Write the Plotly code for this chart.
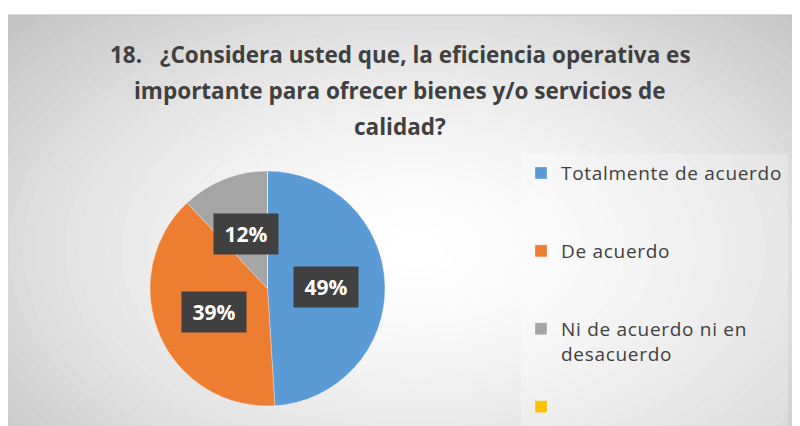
import math
import plotly.graph_objects as go

# ---- data ----
categories = ["Totalmente de acuerdo", "De acuerdo", "Ni de acuerdo ni en desacuerdo", ""]
legend_labels = ["Totalmente de acuerdo", "De acuerdo", "Ni de acuerdo ni en<br>desacuerdo", " "]
values = [49, 39, 12, 0]
colors = ["#5B9BD5", "#ED7D31", "#A5A5A5", "#FFC000"]
title_lines = [
    "18.\u00a0\u00a0\u00a0¿Considera usted que, la eficiencia operativa es",
    "importante para ofrecer bienes y/o servicios de",
    "calidad?",
]

# page body has an 8px margin: figure pixel = reference pixel - 8
OFF = 8
W, H = 792, 418
FONT = "Open Sans"
TXT = "#404040"


def fx(x):
    return (x - OFF) / W


def fy(y):
    return 1 - (y - OFF) / H


# pie geometry (reference pixels)
pcx, pcy, R = 267.5, 288.5, 117.5
dom_x = [fx(pcx - R), fx(pcx + R)]
dom_y = [fy(pcy + R), fy(pcy - R)]

# legend labels padded so each entry takes 3 lines (symbol aligned at top)
leg = []
for k, lab in enumerate(legend_labels):
    lines = lab.split("<br>")
    txt = "<br>".join(f"<span style='font-size:19px;letter-spacing:0.7px'>{s}</span>" for s in lines)
    if k < len(legend_labels) - 1:
        txt += "<br> " * (3 - len(lines))
    leg.append(txt)

fig = go.Figure()
fig.add_trace(go.Pie(
    labels=leg,
    values=values,
    marker=dict(colors=colors, line=dict(color="rgba(255,255,255,0.6)", width=0.5)),
    sort=False,
    direction="clockwise",
    rotation=0,
    textinfo="none",
    hoverinfo="percent",
    domain=dict(x=dom_x, y=dom_y),
    showlegend=True,
))

# ---- background: radial gradient panel ----
shapes = []
px0, py0 = 8, 15
shapes.append(dict(type="rect", xref="paper", yref="paper", x0=fx(px0), x1=1, y0=0, y1=fy(py0),
                   fillcolor="rgb(196,196,196)", line=dict(width=0), layer="below"))
gcx, gcy, grx, gry = 415, 250, 560, 340
N = 40
for i in range(N):
    s = 1 - i / N
    c = int(round(255 - 60 * s ** 1.6))
    shapes.append(dict(type="circle", xref="paper", yref="paper",
                       x0=fx(gcx - grx * s), x1=fx(gcx + grx * s),
                       y0=fy(gcy + gry * s), y1=fy(gcy - gry * s),
                       fillcolor=f"rgb({c},{c},{c})", line=dict(width=0), layer="below"))
# white outer margin at the top
shapes.append(dict(type="rect", xref="paper", yref="paper", x0=-0.05, x1=1.05, y0=fy(py0), y1=1.05,
                   fillcolor="white", line=dict(width=0), layer="below"))
shapes.append(dict(type="line", xref="paper", yref="paper", x0=fx(px0), x1=1, y0=fy(py0), y1=fy(py0),
                   line=dict(color="#bdbdbd", width=1), layer="below"))

annotations = []
# title lines
title_y = [55, 91, 126]
for line, ty in zip(title_lines, title_y):
    annotations.append(dict(text=f"<b>{line}</b>", x=fx(400), y=fy(ty), xref="paper", yref="paper",
                            showarrow=False, xanchor="center", yanchor="middle",
                            font=dict(family=FONT, size=22.5, color=TXT)))

# data labels (computed from values)
total = sum(values)
cum = 0
for v in values:
    if v > 0:
        mid = (cum + v / 2) / total * 2 * math.pi
        lx = pcx + 0.5 * R * math.sin(mid)
        ly = pcy - 0.5 * R * math.cos(mid)
        annotations.append(dict(text=f"<b>{round(100 * v / total)}%</b>", x=fx(lx), y=fy(ly),
                                xref="paper", yref="paper", showarrow=False,
                                xanchor="center", yanchor="middle",
                                font=dict(family=FONT, size=21, color="white"),
                                bgcolor="#404040", borderpad=4, width=56, height=32))
    cum += v

fig.update_layout(
    width=W, height=H,
    margin=dict(l=0, r=0, t=0, b=0, autoexpand=False),
    paper_bgcolor="white",
    plot_bgcolor="rgba(0,0,0,0)",
    shapes=shapes,
    annotations=annotations,
    legend=dict(
        x=fx(521), y=fy(154), xanchor="left", yanchor="top",
        bgcolor="rgba(255,255,255,0.25)",
        font=dict(family=FONT, size=19.2, color=TXT),
        valign="top",
        itemclick=False,
    ),
)

fig.write_html("out.html")
